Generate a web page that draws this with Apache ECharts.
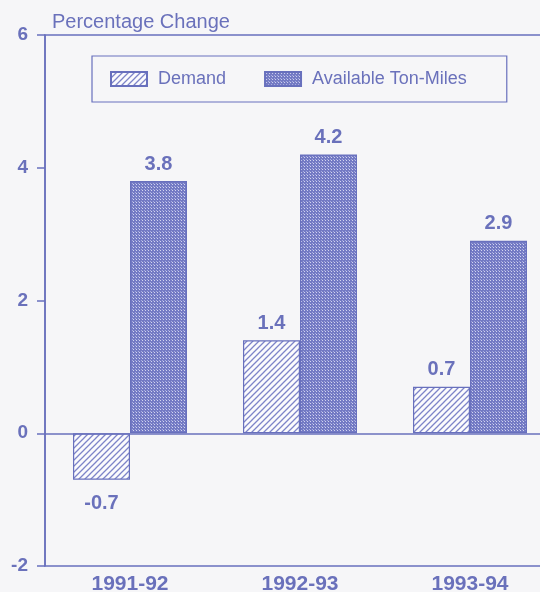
<!DOCTYPE html>
<html>
<head>
<meta charset="utf-8">
<script src="https://cdn.jsdelivr.net/npm/echarts@6/dist/echarts.min.js"></script>
<style>
  html, body { margin: 0; padding: 0; background: #f6f6f8; }
  #chart { width: 540px; height: 592px; }
</style>
</head>
<body>
<div id="chart"></div>
<script>
// Annual percentage change, tanker market
const categories = ['1991-92', '1992-93', '1993-94'];
const demand = [-0.7, 1.4, 0.7];
const tonMiles = [3.8, 4.2, 2.9];
const seriesNames = ['Demand', 'Available Ton-Miles'];

const INK = '#6870bd';
const TEXT = '#6a71bb';
const FONT = '"Liberation Sans", Arial, Helvetica, sans-serif';

// Diagonal "////" hatch fill
function hatchPattern() {
  const c = document.createElement('canvas');
  c.width = 6; c.height = 6;
  const g = c.getContext('2d');
  g.fillStyle = '#fbfbfd';
  g.fillRect(0, 0, 6, 6);
  g.strokeStyle = '#7d84c8';
  g.lineWidth = 1.3;
  g.beginPath();
  g.moveTo(-1, 7); g.lineTo(7, -1);
  g.moveTo(-4, 4); g.lineTo(4, -4);
  g.moveTo(2, 10); g.lineTo(10, 2);
  g.stroke();
  return c;
}

// Fine dot screen fill
function dotPattern() {
  const c = document.createElement('canvas');
  c.width = 3; c.height = 3;
  const g = c.getContext('2d');
  g.fillStyle = '#737ac4';
  g.fillRect(0, 0, 3, 3);
  g.fillStyle = '#d2d4f0';
  g.fillRect(1, 1, 1, 1);
  g.fillStyle = '#a9addf';
  g.fillRect(0, 0, 1, 1);
  return c;
}

const valueLabel = {
  show: true,
  fontFamily: FONT,
  fontSize: 20,
  fontWeight: 'bold',
  color: TEXT,
  distance: 7
};

function barData(values) {
  return values.map(v => ({
    value: v,
    label: v < 0 ? { position: 'bottom', distance: 14 } : { position: 'top' }
  }));
}

const chart = echarts.init(document.getElementById('chart'), null, { renderer: 'canvas' });

chart.setOption({
  backgroundColor: '#f6f6f8',
  animation: false,
  title: {
    text: 'Percentage Change',
    left: 47,
    top: 7,
    textStyle: { fontFamily: FONT, fontSize: 20, fontWeight: 'normal', color: TEXT }
  },
  legend: {
    left: 92,
    top: 56,
    padding: [14, 40, 14, 18],
    itemGap: 38,
    itemWidth: 36,
    itemHeight: 14,
    icon: 'rect',
    borderColor: INK,
    borderWidth: 1.2,
    data: seriesNames,
    textStyle: { fontFamily: FONT, fontSize: 18, color: TEXT, padding: [0, 0, 0, 6] }
  },
  grid: {
    left: 45,
    top: 35,
    width: 510,
    height: 531,
    outerBoundsMode: 'none',
    containLabel: false,
    show: true,
    borderColor: INK,
    borderWidth: 1.5,
    backgroundColor: 'transparent'
  },
  xAxis: {
    type: 'category',
    data: categories,
    axisLine: { show: false, onZero: false },
    axisTick: { show: false },
    axisLabel: {
      margin: 8,
      fontFamily: FONT,
      fontSize: 21,
      fontWeight: 'bold',
      color: TEXT
    }
  },
  yAxis: {
    type: 'value',
    min: -2,
    max: 6,
    interval: 2,
    axisLine: { show: true, lineStyle: { color: INK, width: 1.5 } },
    axisTick: { show: true, length: 8, lineStyle: { color: INK, width: 1.5 } },
    splitLine: { show: false },
    axisLabel: {
      margin: 17,
      fontFamily: FONT,
      fontSize: 19,
      fontWeight: 'bold',
      color: TEXT
    }
  },
  series: [
    {
      name: seriesNames[0],
      type: 'bar',
      data: barData(demand),
      barWidth: 57,
      barGap: '0%',
      itemStyle: {
        color: { image: hatchPattern(), repeat: 'repeat' },
        borderColor: INK,
        borderWidth: 1.2
      },
      label: valueLabel,
      markLine: {
        silent: true,
        symbol: 'none',
        label: { show: false },
        lineStyle: { color: INK, width: 1.5, type: 'solid' },
        data: [{ yAxis: 0 }]
      }
    },
    {
      name: seriesNames[1],
      type: 'bar',
      data: barData(tonMiles),
      barWidth: 57,
      barGap: '0%',
      itemStyle: {
        color: { image: dotPattern(), repeat: 'repeat' },
        borderColor: INK,
        borderWidth: 1.2
      },
      label: valueLabel
    }
  ]
});
</script>
</body>
</html>
